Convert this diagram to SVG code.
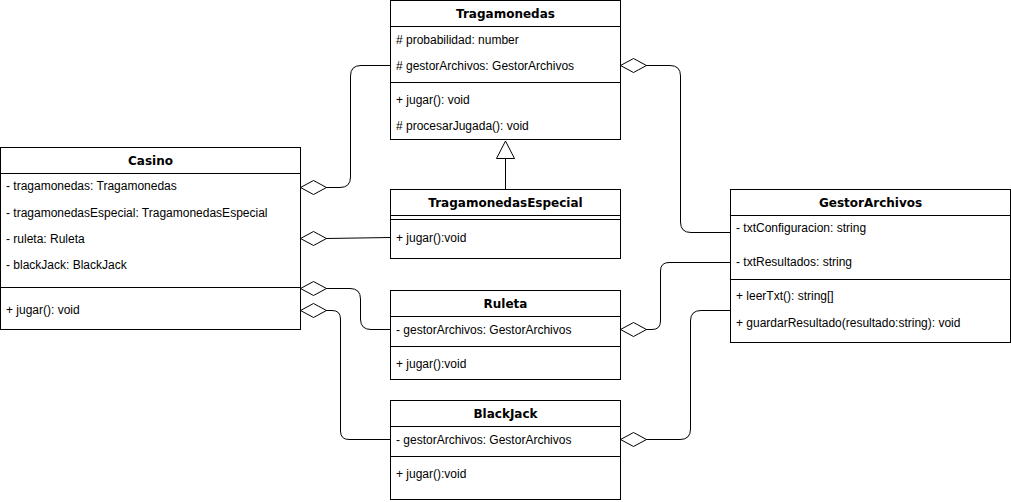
<svg xmlns="http://www.w3.org/2000/svg" width="1011" height="502" viewBox="0 0 1011 502">
<style>
.box{fill:#fff;stroke:#000;stroke-width:1}
.sep{stroke:#000;stroke-width:1;fill:none}
.t{font-family:"DejaVu Sans",Verdana,sans-serif;font-weight:bold;font-size:12px;text-anchor:middle;fill:#000}
.a{font-family:"Liberation Sans",Arial,sans-serif;font-size:12px;fill:#000}
.c{fill:none;stroke:#000;stroke-width:1}
.d{fill:#fff;stroke:#000;stroke-width:1}
</style>
<rect width="1011" height="502" fill="#fff"/>
<g id="connectors">
  <path class="c" d="M326,187.5 H340 Q350.5,187.5 350.5,177 V76 Q350.5,65.5 361,65.5 H390"/>
  <polygon class="d" points="300.5,187.5 313.5,180.5 326.5,187.5 313.5,194.5"/>
  <path class="c" d="M326,238.5 L390,237.5"/>
  <polygon class="d" points="300.5,238.5 313.5,231.5 326.5,238.5 313.5,245.5"/>
  <path class="c" d="M326,288.5 H350 Q360.5,288.5 360.5,299 V319 Q360.5,329.5 371,329.5 H390"/>
  <polygon class="d" points="300.5,288.5 313.5,281.5 326.5,288.5 313.5,295.5"/>
  <path class="c" d="M326,310.5 H332 Q340.5,310.5 340.5,319 V431 Q340.5,439.5 349,439.5 H390"/>
  <polygon class="d" points="300.5,310.5 313.5,303.5 326.5,310.5 313.5,317.5"/>
  <path class="c" d="M646,65.5 H670 Q680.5,65.5 680.5,76 V222 Q680.5,232.5 691,232.5 H730"/>
  <polygon class="d" points="620.5,65.5 633.5,58.5 646.5,65.5 633.5,72.5"/>
  <path class="c" d="M646,329.5 H652 Q660.5,329.5 660.5,321 V271 Q660.5,262.5 669,262.5 H730"/>
  <polygon class="d" points="620.5,329.5 633.5,322.5 646.5,329.5 633.5,336.5"/>
  <path class="c" d="M646,439.5 H680 Q690.5,439.5 690.5,429 V321 Q690.5,310.5 701,310.5 H730"/>
  <polygon class="d" points="620.5,439.5 633.5,432.5 646.5,439.5 633.5,446.5"/>
  <path class="c" d="M505.5,158 V189"/>
  <polygon class="d" points="505.5,141 496.5,158.5 514.5,158.5"/>
</g>
<g id="Tragamonedas">
  <rect class="box" x="390.5" y="0.5" width="230" height="139"/>
  <path class="sep" d="M390.5,26.5 H620.5 M390.5,82.5 H620.5"/>
  <text class="t" x="505.5" y="18">Tragamonedas</text>
  <text class="a" x="396" y="43.5"># probabilidad: number</text>
  <text class="a" x="396" y="70"># gestorArchivos: GestorArchivos</text>
  <text class="a" x="396" y="103.5">+ jugar(): void</text>
  <text class="a" x="396" y="130"># procesarJugada(): void</text>
</g>
<g id="Casino">
  <rect class="box" x="0.5" y="147.5" width="300" height="182"/>
  <path class="sep" d="M0.5,173.5 H300.5 M0.5,287.5 H300.5"/>
  <text class="t" x="150.5" y="165">Casino</text>
  <text class="a" x="6" y="190">- tragamonedas: Tragamonedas</text>
  <text class="a" x="6" y="216.5">- tragamonedasEspecial: TragamonedasEspecial</text>
  <text class="a" x="6" y="243">- ruleta: Ruleta</text>
  <text class="a" x="6" y="269">- blackJack: BlackJack</text>
  <text class="a" x="6" y="314">+ jugar(): void</text>
</g>
<g id="TragamonedasEspecial">
  <rect class="box" x="390.5" y="189.5" width="230" height="69"/>
  <path class="sep" d="M390.5,215.5 H620.5 M390.5,219.5 H620.5"/>
  <text class="t" x="505.5" y="207">TragamonedasEspecial</text>
  <text class="a" x="396" y="241.5">+ jugar():void</text>
</g>
<g id="Ruleta">
  <rect class="box" x="390.5" y="290.5" width="230" height="89"/>
  <path class="sep" d="M390.5,316.5 H620.5 M390.5,346.5 H620.5"/>
  <text class="t" x="505.5" y="308">Ruleta</text>
  <text class="a" x="396" y="334">- gestorArchivos: GestorArchivos</text>
  <text class="a" x="396" y="367.5">+ jugar():void</text>
</g>
<g id="BlackJack">
  <rect class="box" x="390.5" y="400.5" width="230" height="99"/>
  <path class="sep" d="M390.5,426.5 H620.5 M390.5,456.5 H620.5"/>
  <text class="t" x="505.5" y="418">BlackJack</text>
  <text class="a" x="396" y="444">- gestorArchivos: GestorArchivos</text>
  <text class="a" x="396" y="478">+ jugar():void</text>
</g>
<g id="GestorArchivos">
  <rect class="box" x="730.5" y="189.5" width="280" height="153"/>
  <path class="sep" d="M730.5,215.5 H1010.5 M730.5,279.5 H1010.5"/>
  <text class="t" x="870.5" y="207">GestorArchivos</text>
  <text class="a" x="736" y="232">- txtConfiguracion: string</text>
  <text class="a" x="736" y="266">- txtResultados: string</text>
  <text class="a" x="736" y="300">+ leerTxt(): string[]</text>
  <text class="a" x="736" y="327">+ guardarResultado(resultado:string): void</text>
</g>
</svg>
